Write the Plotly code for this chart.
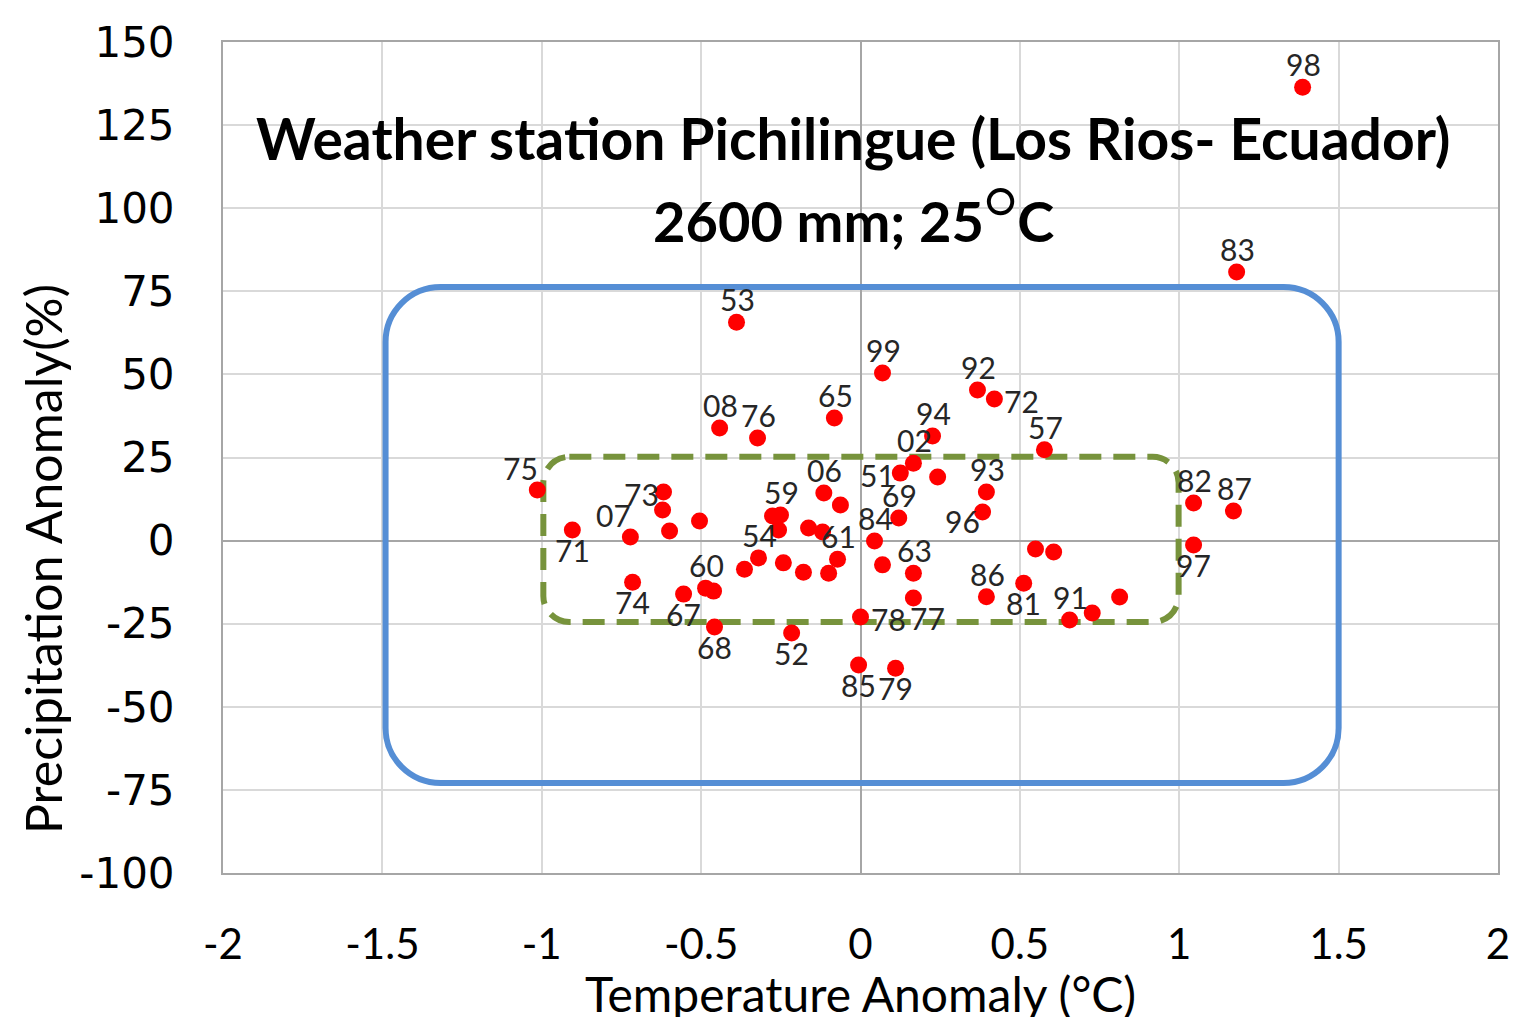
import plotly.graph_objects as go

# ---- data ----
years = ["98", "83", "53", "99", "92", "72", "65", "08", "76", "94", "57", "02", "51", "",
         "93", "96", "69", "84", "06", "", "61", "", "", "63", "77", "78", "85", "79",
         "86", "81", "", "", "91", "", "", "82", "87", "97", "75", "71", "07", "73",
         "", "", "", "74", "67", "60", "", "68", "52", "54", "", "59", "", "", "", "", "", ""]
temp_anom = [1.387, 1.18, -0.389, 0.069, 0.367, 0.42, -0.082, -0.442, -0.323, 0.226, 0.577, 0.166, 0.125, 0.242,
             0.395, 0.383, 0.12, 0.044, -0.115, -0.063, -0.072, -0.1, 0.069, 0.166, 0.166, 0.0, -0.006, 0.11,
             0.395, 0.512, 0.549, 0.606, 0.656, 0.727, 0.813, 1.045, 1.17, 1.045, -1.014, -0.904, -0.722, -0.618,
             -0.621, -0.599, -0.505, -0.715, -0.555, -0.486, -0.461, -0.458, -0.216, -0.32, -0.364, -0.251, -0.276,
             -0.257, -0.242, -0.163, -0.179, -0.119]
precip_anom = [136.4, 80.8, 65.7, 50.4, 45.3, 42.6, 36.9, 33.9, 30.9, 31.5, 27.3, 23.3, 20.3, 19.1,
               14.6, 8.6, 6.8, -0.1, 14.3, 10.7, -5.6, -9.8, -7.3, -9.8, -17.3, -23.0, -37.4, -38.4,
               -16.9, -12.8, -2.5, -3.4, -23.9, -21.8, -17.0, 11.3, 8.9, -1.3, 15.2, 3.2, 1.1, 14.6,
               9.2, 2.9, 5.9, -12.5, -16.1, -14.3, -15.2, -26.0, -27.8, -5.2, -8.6, 7.7, 7.4,
               3.2, -6.7, 3.8, -9.5, 2.6]
label_pos = ["top center", "top center", "top center", "top center", "top center", "middle right",
             "top center", "top center", "top center", "top center", "top center", "top center",
             "middle left", "top center", "top center", "bottom left", "top center", "top center",
             "top center", "top center", "top center", "top center", "top center", "top center",
             "bottom right", "middle right", "bottom center", "bottom center", "top center",
             "bottom center", "top center", "top center", "top center", "top center", "top center",
             "top center", "top center", "bottom center", "top left", "bottom center", "top left",
             "middle left", "top center", "top center", "top center", "bottom center", "bottom center",
             "top center", "top center", "bottom center", "bottom center", "top center", "top center",
             "top center", "top center", "top center", "top center", "top center", "top center", "top center"]

x_ticks = [-2, -1.5, -1, -0.5, 0, 0.5, 1, 1.5, 2]
y_ticks = [150, 125, 100, 75, 50, 25, 0, -25, -50, -75, -100]

# region boxes (temperature range, precipitation range)
outer_box_x = [-1.49, 1.5]
outer_box_y = [-72.9, 76.3]
inner_box_x = [-0.995, 0.998]
inner_box_y = [-24.5, 25.2]

X_RANGE = [-2, 2]
Y_RANGE = [-100, 150]
OFF = 8  # default page body margin
W, H = 1503, 1009
ML, MR, MT, MB = 215, 13, 34, 144
PW, PH = W - ML - MR, H - MT - MB
PX_PER_X = PW / (X_RANGE[1] - X_RANGE[0])
PX_PER_Y = PH / (Y_RANGE[1] - Y_RANGE[0])

# label placement styles: (xanchor, yanchor, xshift, yshift)
LABEL_STYLE = {
    "top center": ("center", "bottom", 1, 4),
    "bottom center": ("center", "top", 0, -1),
    "middle left": ("right", "middle", -4, -2),
    "middle right": ("left", "middle", 9, -2),
    "top left": ("right", "bottom", 2, 3),
    "bottom left": ("right", "middle", -2, -9),
    "bottom right": ("left", "top", -4, -1),
}


def px_to_paper_y(py):
    return (H - MB - (py - OFF)) / PH


def px_to_paper_x(px):
    return (px - OFF - ML) / PW


def rounded_path(xr, yr, r_px):
    x0, x1 = xr
    y0, y1 = yr
    rx = r_px / PX_PER_X
    ry = r_px / PX_PER_Y
    k = 0.4477
    return (f"M {x0+rx},{y1} L {x1-rx},{y1} "
            f"C {x1-rx*k},{y1} {x1},{y1-ry*k} {x1},{y1-ry} "
            f"L {x1},{y0+ry} "
            f"C {x1},{y0+ry*k} {x1-rx*k},{y0} {x1-rx},{y0} "
            f"L {x0+rx},{y0} "
            f"C {x0+rx*k},{y0} {x0},{y0+ry*k} {x0},{y0+ry} "
            f"L {x0},{y1-ry} "
            f"C {x0},{y1-ry*k} {x0+rx*k},{y1} {x0+rx},{y1} Z")


fig = go.Figure()
fig.add_trace(go.Scatter(
    x=temp_anom, y=precip_anom, mode="markers",
    marker=dict(color="#FF0000", size=17),
    cliponaxis=False, showlegend=False,
))

for lab, xv, yv, pos in zip(years, temp_anom, precip_anom, label_pos):
    if not lab:
        continue
    xa, ya, xs, ys = LABEL_STYLE[pos]
    fig.add_annotation(x=xv, y=yv, xref="x", yref="y", text=lab, showarrow=False,
                       xanchor=xa, yanchor=ya, xshift=xs, yshift=ys, borderpad=0,
                       font=dict(family="Lato", size=30, color="#262626"))

fig.add_shape(type="path", path=rounded_path(outer_box_x, outer_box_y, 55),
              xref="x", yref="y", layer="between",
              line=dict(color="#558ED5", width=6))
fig.add_shape(type="path", path=rounded_path(inner_box_x, inner_box_y, 26),
              xref="x", yref="y", layer="between",
              line=dict(color="#77933C", width=6, dash="22px,12px"))

fig.add_annotation(text="<b>Weather station Pichilingue (Los Rios- Ecuador)</b>",
                   xref="paper", yref="paper", x=px_to_paper_x(853), y=px_to_paper_y(138),
                   yanchor="middle", xanchor="center", showarrow=False,
                   font=dict(family="Lato", size=57, color="#000000"))
fig.add_annotation(text="<b>2600 mm; 25</b><sup><span style='font-size:50px'>○</span></sup><b>C</b>",
                   xref="paper", yref="paper", x=px_to_paper_x(853), y=px_to_paper_y(212),
                   yanchor="middle", xanchor="center", showarrow=False,
                   font=dict(family="Lato", size=56, color="#000000"))

# axis titles
fig.add_annotation(text="Temperature Anomaly (°C)", xref="paper", yref="paper",
                   x=px_to_paper_x(860), y=px_to_paper_y(994), xanchor="center", yanchor="middle",
                   showarrow=False, font=dict(family="Lato", size=48, color="#000000"))
fig.add_annotation(text="Precipitation Anomaly(%)", xref="paper", yref="paper",
                   x=px_to_paper_x(43), y=px_to_paper_y(559), xanchor="center", yanchor="middle",
                   textangle=-90, showarrow=False, font=dict(family="Lato", size=50, color="#000000"))

fig.update_xaxes(range=X_RANGE, tickvals=x_ticks, ticktext=[f"{v:g}" for v in x_ticks],
                 automargin=False,
                 showgrid=True, gridcolor="#D9D9D9", gridwidth=1.5,
                 zeroline=True, zerolinecolor="#A6A6A6", zerolinewidth=1.5,
                 showline=True, mirror=True, linecolor="#A6A6A6", linewidth=2,
                 ticks="outside", ticklen=34, tickcolor="rgba(0,0,0,0)",
                 tickfont=dict(family="Lato", size=42, color="#000000"))
fig.update_yaxes(range=Y_RANGE, tickvals=y_ticks, ticktext=[str(v) for v in y_ticks],
                 automargin=False,
                 showgrid=True, gridcolor="#D9D9D9", gridwidth=1.5,
                 zeroline=True, zerolinecolor="#A6A6A6", zerolinewidth=1.5,
                 showline=True, mirror=True, linecolor="#A6A6A6", linewidth=2,
                 ticks="outside", ticklen=38, tickcolor="rgba(0,0,0,0)",
                 tickfont=dict(family="DejaVu Sans", size=42, color="#000000"))

fig.update_layout(width=W, height=H, margin=dict(l=ML, r=MR, t=MT, b=MB, autoexpand=False),
                  paper_bgcolor="white", plot_bgcolor="white")

fig.write_html("out.html")
